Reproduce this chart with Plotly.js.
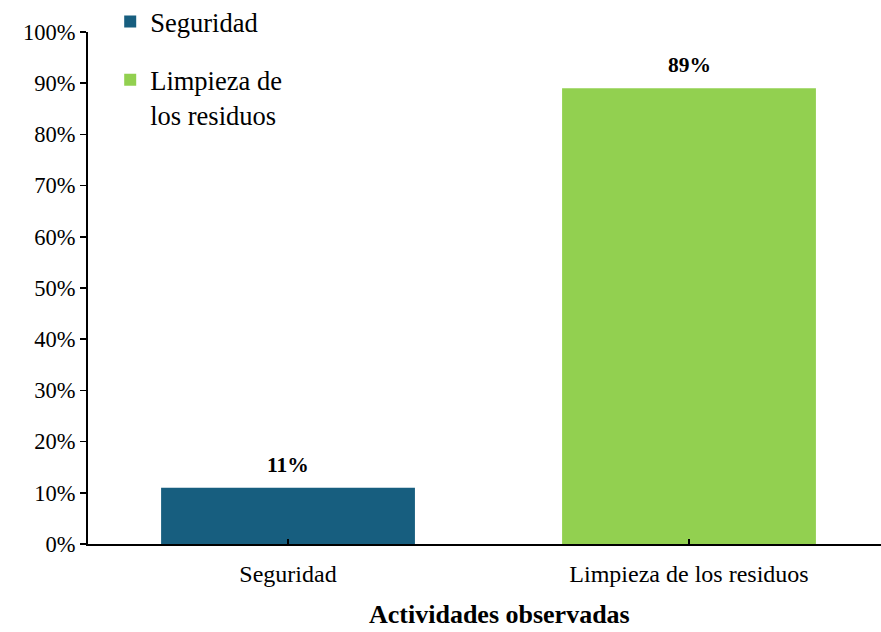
<!DOCTYPE html>
<html>
<head>
<meta charset="utf-8">
<script src="https://cdn.plot.ly/plotly-3.0.1.min.js"></script>
<style>html,body{margin:0;padding:0;background:#fff;}#chart{width:881px;height:632px;}</style>
</head>
<body>
<div id="chart"></div>
<script>
const categories = ["Seguridad", "Limpieza de los residuos"];
const legendNames = ["Seguridad", "Limpieza de<br>los residuos"];
const values = [11, 89];
const labels = ["11%", "89%"];
const colors = ["#175e7f", "#92d050"];
const yTicks = [0, 10, 20, 30, 40, 50, 60, 70, 80, 90, 100];
const yTickText = ["0%", "10%", "20%", "30%", "40%", "50%", "60%", "70%", "80%", "90%", "100%"];
const xTitle = "Actividades observadas";

const FONT = "Times New Roman, Liberation Serif, Times, serif";

const traces = categories.map((c, i) => ({
  type: "bar",
  x: [c],
  y: [values[i]],
  name: legendNames[i],
  marker: { color: colors[i] },
  width: 0.633,
  legend: i === 0 ? "legend" : "legend2",
  hoverinfo: "none"
}));

const annotations = categories.map((c, i) => ({
  x: c, y: values[i], xref: "x", yref: "y",
  text: "<b>" + labels[i] + "</b>",
  showarrow: false, yanchor: "bottom", yshift: 9,
  font: { family: FONT, size: 21.5, color: "#000" }
}));
annotations.push({
  x: 0.5195, y: -0.1377, xref: "paper", yref: "paper",
  xanchor: "center", yanchor: "middle", showarrow: false, borderpad: 0,
  text: "<b>" + xTitle + "</b>",
  font: { family: FONT, size: 26, color: "#000" }
});

const layout = {
  width: 881, height: 632,
  margin: { l: 88, r: 0, t: 32, b: 88, autoexpand: false },
  paper_bgcolor: "#fff", plot_bgcolor: "#fff",
  barmode: "overlay",
  font: { family: FONT, color: "#000" },
  xaxis: {
    type: "category",
    categoryarray: categories,
    range: [-0.4988, 1.4788],
    showline: true, linecolor: "#000", linewidth: 2,
    ticks: "inside", ticklen: 5, tickwidth: 1.5, tickcolor: "#000",
    showgrid: false, zeroline: false,
    ticklabelstandoff: 7,
    tickfont: { family: FONT, size: 24, color: "#000" }
  },
  yaxis: {
    range: [0, 100],
    tickmode: "array",
    tickvals: yTicks,
    ticktext: yTickText,
    showline: true, linecolor: "#000", linewidth: 2,
    ticks: "outside", ticklen: 6, tickwidth: 1.5, tickcolor: "#000",
    showgrid: false, zeroline: false,
    tickfont: { family: FONT, size: 22.5, color: "#000" }
  },
  legend: {
    x: 0.028, y: 1.02, xanchor: "left", yanchor: "middle",
    bgcolor: "rgba(0,0,0,0)",
    font: { family: FONT, size: 26.5, color: "#000" },
    itemclick: false, itemdoubleclick: false
  },
  legend2: {
    x: 0.028, y: 0.873, xanchor: "left", yanchor: "middle",
    bgcolor: "rgba(0,0,0,0)", valign: "top",
    font: { family: FONT, size: 26.5, color: "#000" },
    itemclick: false, itemdoubleclick: false
  },
  annotations: annotations,
  showlegend: true
};

Plotly.newPlot("chart", traces, layout, { staticPlot: true, displayModeBar: false });
</script>
</body>
</html>
